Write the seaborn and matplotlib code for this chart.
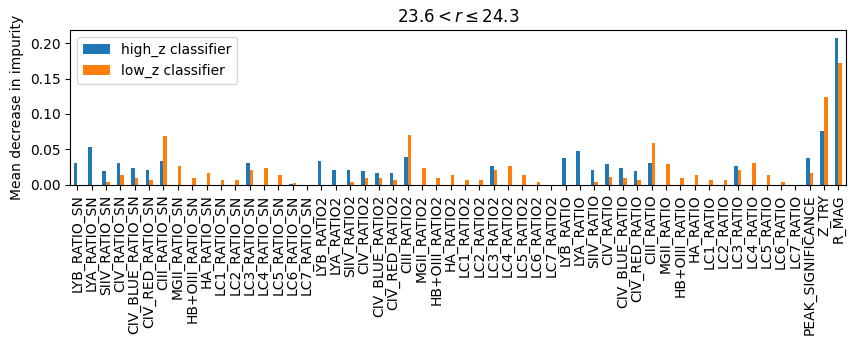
import numpy as np
import pandas as pd
import seaborn as sns
import matplotlib
matplotlib.use('Agg')
import matplotlib.pyplot as plt

lines = ['LYB', 'LYA', 'SIIV', 'CIV', 'CIV_BLUE', 'CIV_RED', 'CIII', 'MGII',
         'HB+OIII', 'HA', 'LC1', 'LC2', 'LC3', 'LC4', 'LC5', 'LC6', 'LC7']
features = ([f'{l}_RATIO_SN' for l in lines] + [f'{l}_RATIO2' for l in lines]
            + [f'{l}_RATIO' for l in lines] + ['PEAK_SIGNIFICANCE', 'Z_TRY', 'R_MAG'])

# mean decrease in impurity
high_z_sn = [0.031, 0.053, 0.019, 0.030, 0.024, 0.020, 0.033, 0.0, 0.0, 0.0,
             0.0, 0.0, 0.030, 0.0, 0.0, 0.001, 0.0]
low_z_sn = [0.0, 0.0, 0.003, 0.013, 0.009, 0.007, 0.069, 0.027, 0.010, 0.016,
            0.006, 0.007, 0.020, 0.023, 0.013, 0.002, 0.0]
high_z_ratio2 = [0.033, 0.021, 0.020, 0.019, 0.017, 0.016, 0.039, 0.0, 0.0, 0.0,
                 0.0, 0.0, 0.027, 0.0, 0.0, 0.0, 0.0]
low_z_ratio2 = [0.0, 0.0, 0.003, 0.010, 0.009, 0.007, 0.070, 0.023, 0.009, 0.013,
                0.007, 0.007, 0.021, 0.026, 0.014, 0.003, 0.0]
high_z_ratio = [0.037, 0.047, 0.020, 0.029, 0.023, 0.019, 0.031, 0.0, 0.0, 0.0,
                0.0, 0.0, 0.026, 0.0, 0.0, 0.0, 0.0]
low_z_ratio = [0.0, 0.0, 0.003, 0.011, 0.009, 0.007, 0.059, 0.029, 0.010, 0.014,
               0.006, 0.007, 0.021, 0.030, 0.014, 0.003, 0.0]
high_z_other = [0.037, 0.076, 0.208]
low_z_other = [0.016, 0.124, 0.172]

high_z = high_z_sn + high_z_ratio2 + high_z_ratio + high_z_other
low_z = low_z_sn + low_z_ratio2 + low_z_ratio + low_z_other

df = pd.DataFrame({
    'feature': features * 2,
    'importance': high_z + low_z,
    'model': ['high_z classifier'] * len(features) + ['low_z classifier'] * len(features),
})

fig, ax = plt.subplots(figsize=(8.55, 3.45), dpi=100)
sns.barplot(data=df, x='feature', y='importance', hue='model', ax=ax,
            palette=['#1f77b4', '#ff7f0e'], saturation=1, width=0.5,
            linewidth=0, order=features)
ax.set_title(r'$23.6 < r \leq 24.3$')
ax.set_xlabel('')
ax.set_ylabel('Mean decrease in impurity')
ax.tick_params(axis='x', rotation=90)
ax.legend(loc='upper left', title=None)
fig.subplots_adjust(left=0.082, right=0.989, top=0.912, bottom=0.465)
fig.savefig('out.png', dpi=100)
